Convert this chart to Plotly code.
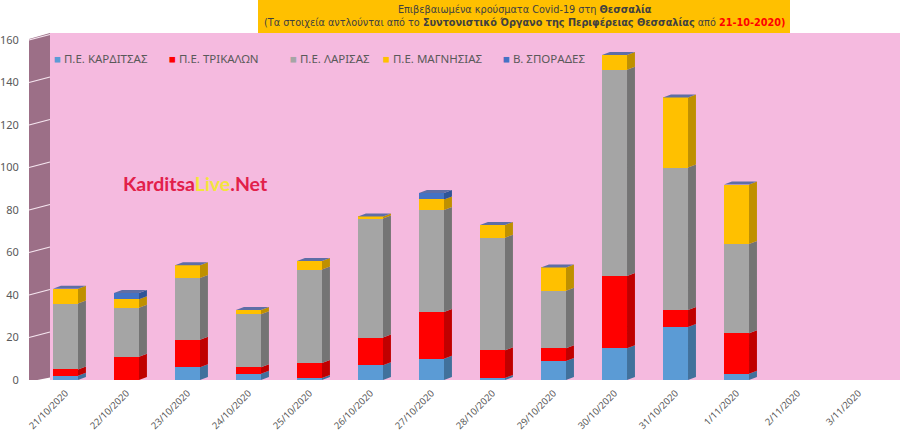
import numpy as np
import plotly.graph_objects as go

dates = ["21/10/2020", "22/10/2020", "23/10/2020", "24/10/2020", "25/10/2020",
         "26/10/2020", "27/10/2020", "28/10/2020", "29/10/2020", "30/10/2020",
         "31/10/2020", "1/11/2020", "2/11/2020", "3/11/2020"]
karditsa = [2, 0, 6, 3, 1, 7, 10, 1, 9, 15, 25, 3, 0, 0]
trikala = [3, 11, 13, 3, 7, 13, 22, 13, 6, 34, 8, 19, 0, 0]
larisa = [31, 23, 29, 25, 44, 56, 48, 53, 27, 97, 67, 42, 0, 0]
magnisia = [7, 4, 6, 2, 4, 1, 5, 6, 11, 7, 33, 28, 0, 0]
sporades = [0, 3, 0, 0, 0, 0, 3, 0, 0, 0, 0, 0, 0, 0]

series = [
    ("Π.Ε. ΚΑΡΔΙΤΣΑΣ", karditsa, "#5B9BD5", "#41719C"),
    ("Π.Ε. ΤΡΙΚΑΛΩΝ", trikala, "#FF0000", "#C00000"),
    ("Π.Ε. ΛΑΡΙΣΑΣ", larisa, "#A5A5A5", "#747474"),
    ("Π.Ε. ΜΑΓΝΗΣΙΑΣ", magnisia, "#FFC000", "#BF9000"),
    ("Β. ΣΠΟΡΑΔΕΣ", sporades, "#4472C4", "#2F5597"),
]
legend_px = [52, 167, 288, 381, 501]   # left edge of each legend entry

x = np.arange(len(dates))
w = 0.41      # front face width
dx = 0.13     # depth to the right
dy = 1.4      # depth upwards (data units)

fig = go.Figure()

base = np.zeros(len(dates))
for name, vals, col, side in series:
    vals = np.array(vals, dtype=float)
    # front faces
    fig.add_trace(go.Bar(x=x, y=vals, base=base, width=w, name=name,
                         marker=dict(color=col, line=dict(width=0)),
                         hoverinfo="skip"))
    # side faces
    sx, sy = [], []
    for i in range(len(dates)):
        if vals[i] <= 0:
            continue
        b, t = base[i], base[i] + vals[i]
        r = x[i] + w / 2
        sx += [r, r + dx, r + dx, r, r, None]
        sy += [b, b + dy, t + dy, t, b, None]
    fig.add_trace(go.Scatter(x=sx, y=sy, fill="toself", fillcolor=side, mode="lines",
                             line=dict(width=0, color=side), showlegend=False,
                             hoverinfo="skip"))
    base = base + vals

# top faces
tx, ty = [], []
for i in range(len(dates)):
    if base[i] <= 0:
        continue
    l, r, t = x[i] - w / 2, x[i] + w / 2, base[i]
    tx += [l, r, r + dx, l + dx, l, None]
    ty += [t, t, t + dy, t + dy, t, None]
fig.add_trace(go.Scatter(x=tx, y=ty, fill="toself", fillcolor="#5E6EA6", mode="lines",
                         line=dict(width=0, color="#5E6EA6"), showlegend=False,
                         hoverinfo="skip"))

yticks = list(range(0, 161, 20))

# left wall with its grid lines
wall_l = -21 / 850
shapes = [dict(type="path", xref="paper", yref="y", layer="below",
               path=f"M {wall_l},-0.8 L {wall_l},160.5 L 0,163.3 L 0,1.2 Z",
               fillcolor="#9C6F87", line=dict(width=0))]
for v in yticks[1:]:
    shapes.append(dict(type="path", xref="paper", yref="y", layer="below",
                       path=f"M {wall_l},{v} L 0,{v + 2.6}",
                       line=dict(color="#F6E6F0", width=1.2)))
# title box
shapes.append(dict(type="rect", xref="paper", yref="paper", layer="above",
                   x0=(258 - 50) / 850, x1=(790 - 50) / 850,
                   y0=(380 - 33) / 347, y1=380 / 347,
                   fillcolor="#FFC000", line=dict(width=0)))

title = ("Επιβεβαιωμένα κρούσματα Covid-19 στη <b>Θεσσαλία</b><br>"
         "(Τα στοιχεία αντλούνται από το <b>Συντονιστικό Όργανο της Περιφέρειας Θεσσαλίας</b>"
         " από <b><span style='color:#FF0000'>21-10-2020)</span></b>")

annotations = [
    dict(text=title, xref="paper", yref="paper", x=(524 - 50) / 850, y=(380 - 16) / 347,
         xanchor="center", yanchor="middle", showarrow=False, align="center",
         font=dict(family="DejaVu Sans", size=9.7, color="#404040")),
    dict(text="Karditsa<span style='color:#F3E53C'>Live</span>.Net",
         xref="paper", yref="y", x=(195 - 50) / 850, y=(380 - 183) / 2.125,
         xanchor="center", yanchor="middle", showarrow=False,
         font=dict(family="Lato", size=19.5, color="#E2204A", weight="bold")),
]
for (name, vals, col, side), px in zip(series, legend_px):
    annotations.append(dict(
        text=f"<span style='color:{col}'>■</span> {name}",
        xref="paper", yref="paper", x=(px - 50) / 850, y=(380 - 58) / 347,
        xanchor="left", yanchor="middle", showarrow=False,
        font=dict(family="Noto Sans", size=11.5, color="#595959")))

fig.update_layout(
    width=900, height=437,
    margin=dict(l=50, r=0, t=33, b=57),
    paper_bgcolor="white",
    plot_bgcolor="#F5BADF",
    barmode="overlay",
    bargap=0,
    showlegend=False,
    xaxis=dict(range=[-0.254, 13.68], tickmode="array", tickvals=x, ticktext=dates,
               tickangle=-45, showgrid=False, zeroline=False, showline=False,
               ticks="outside", ticklen=3, tickcolor="rgba(0,0,0,0)", automargin=False,
               tickfont=dict(family="Noto Sans", size=9.5, color="#595959")),
    yaxis=dict(range=[0, 163.3], tickmode="array", tickvals=yticks, showgrid=False,
               zeroline=False, showline=False, automargin=False,
               ticks="outside", ticklen=28, tickcolor="rgba(0,0,0,0)",
               tickfont=dict(family="Noto Sans", size=11, color="#595959")),
    shapes=shapes,
    annotations=annotations,
)

# drop the browser's default page margin so the figure sits at the top-left corner
fig.write_html("out.html", config=dict(displayModeBar=False),
               post_script="document.body.style.margin='0px';")
